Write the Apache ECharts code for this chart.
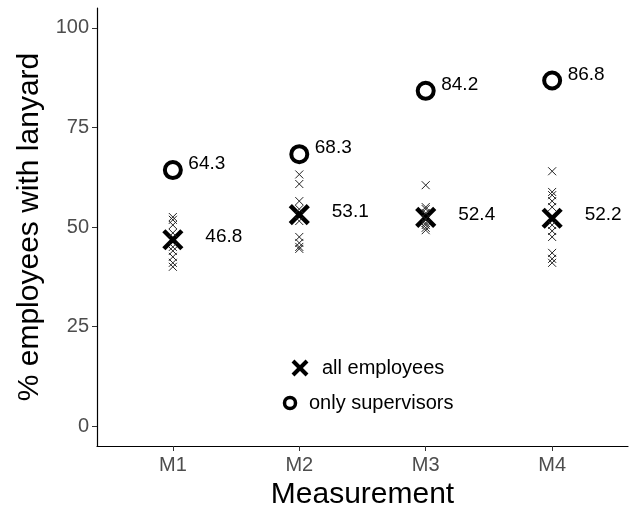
<!DOCTYPE html>
<html>
<head>
<meta charset="utf-8">
<script src="https://cdn.jsdelivr.net/npm/echarts@6/dist/echarts.min.js"></script>
<style>
  html, body { margin: 0; padding: 0; background: #fff; }
  #chart { width: 629px; height: 506px; }
</style>
</head>
<body>
<div id="chart"></div>
<script>
// data
var categories = ['M1', 'M2', 'M3', 'M4'];
var meanAll = [46.8, 53.1, 52.4, 52.2];
var supervisors = [64.3, 68.3, 84.2, 86.8];
var singleM1 = [52.5, 51.8, 50.5, 48.5, 45, 44, 42.5, 41, 40];
var singleM2 = [63.2, 60.8, 56.5, 54.5, 51.5, 47.5, 46, 45, 44.5];
var singleM3 = [60.5, 55, 54.5, 53.5, 52, 51, 50.5, 49.8, 49.2];
var singleM4 = [64, 58.8, 58, 56.5, 55, 50.5, 49, 47.5, 43.5, 42, 41];
var yTicks = [0, 25, 50, 75, 100];

var singles = [singleM1, singleM2, singleM3, singleM4];
var crossPath = 'path://M0,0L10,10M10,0L0,10';
var font = 'Liberation Sans, Arial, sans-serif';

var singlePoints = [];
singles.forEach(function (vals, i) {
    vals.forEach(function (v) { singlePoints.push([i + 1, v]); });
});

var chart = echarts.init(document.getElementById('chart'));

var option = {
    animation: false,
    textStyle: { fontFamily: font },
    grid: { left: 97, right: 1, top: 8, bottom: 60, outerBoundsMode: 'none', containLabel: false },
    xAxis: {
        type: 'value',
        min: 0.4,
        max: 4.6,
        name: 'Measurement',
        nameLocation: 'middle',
        nameGap: 31,
        nameTextStyle: { fontSize: 30, color: '#000', fontFamily: font },
        splitLine: { show: false },
        axisLine: { show: true, onZero: false, lineStyle: { color: '#000', width: 1.2 } },
        axisTick: { show: true, length: 5, customValues: [1, 2, 3, 4], lineStyle: { color: '#333' } },
        axisLabel: {
            customValues: [1, 2, 3, 4],
            margin: 9,
            fontSize: 20,
            color: '#4d4d4d',
            formatter: function (v) { return categories[Math.round(v) - 1]; }
        }
    },
    yAxis: {
        type: 'value',
        min: -5,
        max: 105,
        name: '% employees with lanyard',
        nameLocation: 'middle',
        nameGap: 47,
        nameTextStyle: { fontSize: 30, color: '#000', fontFamily: font },
        splitLine: { show: false },
        axisLine: { show: true, onZero: false, lineStyle: { color: '#000', width: 1.2 } },
        axisTick: { show: true, length: 5, customValues: yTicks, lineStyle: { color: '#333' } },
        axisLabel: { customValues: yTicks, margin: 8, fontSize: 20, color: '#4d4d4d' }
    },
    series: [
        {
            name: 'all employees mean',
            type: 'scatter',
            data: meanAll.map(function (v, i) { return [i + 1, v]; }),
            symbol: crossPath,
            symbolSize: 18,
            itemStyle: { color: 'none', borderColor: '#000', borderWidth: 4.5, opacity: 1 },
            label: {
                show: true,
                position: 'inside',
                offset: [51, -3],
                fontSize: 19,
                color: '#000',
                formatter: function (p) { return p.value[1].toFixed(1); }
            },
            z: 2
        },
        {
            name: 'single',
            type: 'scatter',
            data: singlePoints,
            symbol: crossPath,
            symbolSize: 8,
            itemStyle: { color: 'none', borderColor: '#222', borderWidth: 1, opacity: 1 },
            z: 3
        },
        {
            name: 'only supervisors',
            type: 'scatter',
            data: supervisors.map(function (v, i) { return [i + 1, v]; }),
            symbol: 'circle',
            symbolSize: 16,
            itemStyle: { color: '#fff', borderColor: '#000', borderWidth: 4, opacity: 1 },
            label: {
                show: true,
                position: 'inside',
                offset: [34, -6],
                fontSize: 19,
                color: '#000',
                formatter: function (p) { return p.value[1].toFixed(1); }
            },
            z: 4
        }
    ],
    // legend drawn as annotations, like the original
    graphic: [
        {
            type: 'line',
            shape: { x1: 293, y1: 361, x2: 307, y2: 375 },
            style: { stroke: '#000', lineWidth: 4 }
        },
        {
            type: 'line',
            shape: { x1: 307, y1: 361, x2: 293, y2: 375 },
            style: { stroke: '#000', lineWidth: 4 }
        },
        {
            type: 'text', left: 322, top: 358,
            style: { text: 'all employees', font: '20px ' + font, fill: '#000' }
        },
        {
            type: 'circle',
            shape: { cx: 290, cy: 403, r: 5.5 },
            style: { fill: '#fff', stroke: '#000', lineWidth: 3.5 }
        },
        {
            type: 'text', left: 309, top: 393,
            style: { text: 'only supervisors', font: '20px ' + font, fill: '#000' }
        }
    ]
};

chart.setOption(option);
</script>
</body>
</html>
